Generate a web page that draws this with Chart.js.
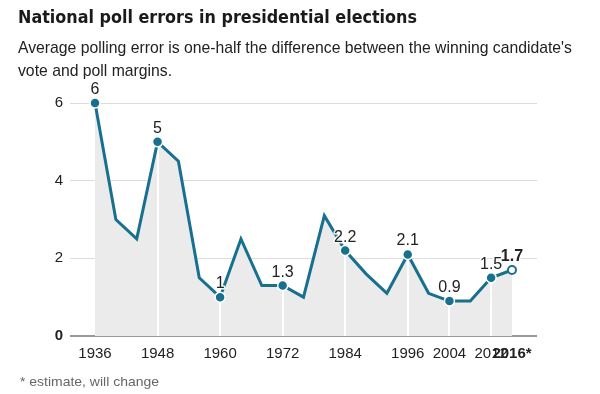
<!DOCTYPE html>
<html>
<head>
<meta charset="utf-8">
<script src="https://cdn.jsdelivr.net/npm/chart.js@4"></script>
<style>
  html, body { margin:0; padding:0; background:#fff; }
  #wrap { position:relative; width:600px; height:394px; overflow:hidden; font-family:"Liberation Sans", Arial, sans-serif; }
  .txt { position:absolute; left:18px; white-space:nowrap; transform-origin:0 0; color:#222; }
  #title { top:6px; font-family:"DejaVu Sans Condensed","DejaVu Sans",sans-serif; font-size:18px; line-height:22px; font-weight:bold; color:#1a1a1a; }
  #sub1 { top:36px; font-size:17px; line-height:23px; }
  #sub2 { top:59px; font-size:17px; line-height:23px; }
  #note { top:374px; left:20px; font-size:13.5px; line-height:16px; color:#666; }
  #c { position:absolute; left:0; top:0; }
</style>
</head>
<body>
<div id="wrap">
  <canvas id="c" width="600" height="394"></canvas>
  <div class="txt" id="title">National poll errors in presidential elections</div>
  <div class="txt" id="sub1">Average polling error is one-half the difference between the winning candidate's</div>
  <div class="txt" id="sub2">vote and poll margins.</div>
  <div class="txt" id="note">* estimate, will change</div>
</div>
<script>
// ---- data ----
const years = [1936,1940,1944,1948,1952,1956,1960,1964,1968,1972,1976,1980,1984,1988,1992,1996,2000,2004,2008,2012,2016];
const pollError = [6,3,2.5,5,4.5,1.5,1,2.5,1.3,1.3,1,3.1,2.2,1.6,1.1,2.1,1.1,0.9,0.9,1.5,1.7];
const labeledYears = [1936,1948,1960,1972,1984,1996,2004,2012,2016];
const xTickYears = [1936,1948,1960,1972,1984,1996,2004,2012,2016];
const xTickLabels = ['1936','1948','1960','1972','1984','1996','2004','2012','2016*'];
const yTickValues = [0,2,4,6];
const estimateYear = 2016;

// fit text widths
function fit(id, w){ const el=document.getElementById(id); const r=el.getBoundingClientRect().width; el.style.transform='scaleX('+(w/r)+')'; return w/r; }
fit('title', 399);
const s = fit('sub1', 554);
document.getElementById('sub2').style.transform='scaleX('+s+')';
fit('note', 139);

const TEAL = '#17708e';
const FONT = '"Liberation Sans", Arial, sans-serif';
const pts = years.map((y,i)=>({x:y, y:pollError[i]}));
const isLabeled = ctx => labeledYears.includes(years[ctx.dataIndex]);

const overlay = {
  id:'overlay',
  afterDatasetDraw(chart, args){
    if(args.index !== 0) return;
    const xs = chart.scales.x, ys = chart.scales.y, c = chart.ctx;
    c.save();
    c.strokeStyle = '#fff'; c.lineWidth = 2;
    labeledYears.forEach(yr=>{
      if (yr===1936 || yr===2016) return;
      const v = pollError[years.indexOf(yr)];
      const px = Math.round(xs.getPixelForValue(yr));
      c.beginPath(); c.moveTo(px, ys.getPixelForValue(v)); c.lineTo(px, ys.getPixelForValue(0)); c.stroke();
    });
    c.restore();
  },
  afterDatasetsDraw(chart){
    const xs = chart.scales.x, ys = chart.scales.y, c = chart.ctx;
    c.save();
    c.textAlign='center'; c.textBaseline='alphabetic';
    labeledYears.forEach(yr=>{
      const v = pollError[years.indexOf(yr)];
      const px = xs.getPixelForValue(yr), py = ys.getPixelForValue(v);
      const bold = yr===estimateYear;
      c.font = (bold?'bold ':'')+'16px '+FONT;
      const t = String(v);
      c.lineJoin='round';
      c.strokeStyle='rgba(255,255,255,0.9)'; c.lineWidth=3;
      c.strokeText(t, px, py-9);
      c.fillStyle='#222';
      c.fillText(t, px, py-9);
    });
    c.restore();
  }
};

new Chart(document.getElementById('c'), {
  type:'line',
  data:{ datasets:[
    { data:pts, fill:'origin', backgroundColor:'#ebebeb', borderWidth:0, pointRadius:0, order:2 },
    { data:pts, fill:false, borderColor:TEAL, borderWidth:3, tension:0, clip:false,
      pointRadius: ctx => isLabeled(ctx) ? (years[ctx.dataIndex]===estimateYear?4:5) : 0,
      pointBackgroundColor: ctx => years[ctx.dataIndex]===estimateYear ? '#fff' : TEAL,
      pointBorderColor: ctx => years[ctx.dataIndex]===estimateYear ? TEAL : '#fff',
      pointBorderWidth: ctx => years[ctx.dataIndex]===estimateYear ? 2 : 1.5,
      order:1 }
  ]},
  plugins:[overlay],
  options:{
    responsive:false, animation:false, devicePixelRatio:1,
    layout:{ padding:{ left:0, right:63, top:103, bottom:0 } },
    plugins:{ legend:{display:false}, tooltip:{enabled:false}, title:{display:false} },
    scales:{
      x:{ type:'linear', min:1931.2, max:2020.8,
        grid:{ display:false }, border:{ display:false },
        afterBuildTicks: sc => { sc.ticks = xTickYears.map(v=>({value:v})); },
        afterFit: sc => { sc.height = 58; },
        ticks:{ autoSkip:false, maxRotation:0, padding:1, color:'#222',
          callback: (v) => xTickLabels[xTickYears.indexOf(v)],
          font: ctx => ({ family:FONT, size:15, weight: (ctx.tick && ctx.tick.value===2016) ? 'bold' : 'normal' }) }
      },
      y:{ min:0, max:6,
        afterBuildTicks: sc => { sc.ticks = yTickValues.map(v=>({value:v})); },
        afterFit: sc => { sc.width = 70; },
        border:{ display:false },
        grid:{ drawTicks:false, color: ctx => ctx.tick && ctx.tick.value===0 ? '#9a9a9a' : '#dcdcdc', lineWidth: ctx => ctx.tick && ctx.tick.value===0 ? 2 : 1 },
        ticks:{ padding:7, color:'#222',
          font: ctx => ({ family:FONT, size:15, weight: (ctx.tick && ctx.tick.value===0) ? 'bold' : 'normal' }) }
      }
    }
  }
});
</script>
</body>
</html>
